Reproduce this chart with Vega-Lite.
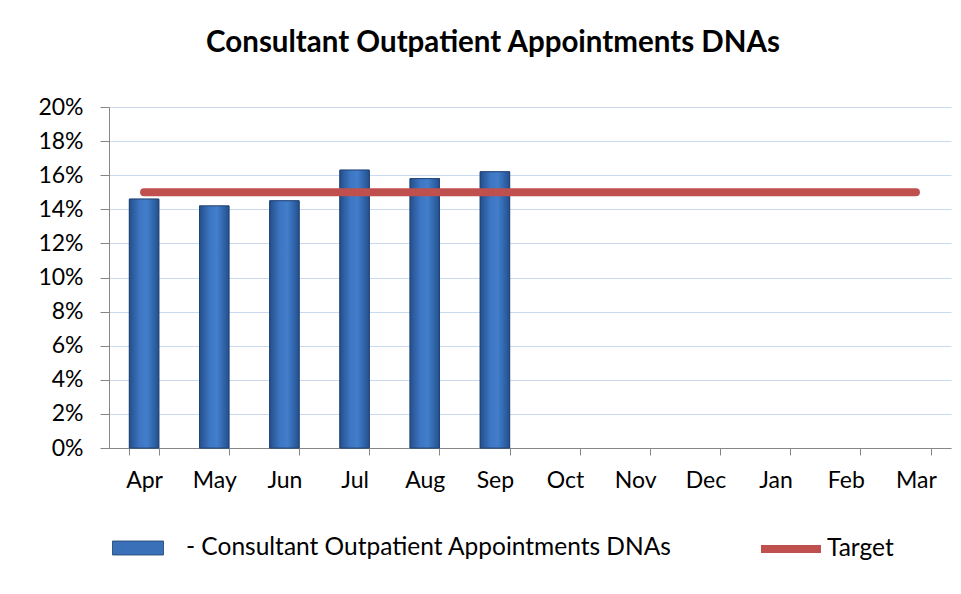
{
  "$schema": "https://vega.github.io/schema/vega-lite/v6.json",
  "width": 842,
  "height": 341,
  "autosize": {"type": "none"},
  "padding": {"left": 109, "top": 107, "right": 10, "bottom": 146},
  "background": "white",
  "title": {
    "text": "Consultant Outpatient Appointments DNAs",
    "font": "Lato",
    "fontSize": 29.5,
    "fontWeight": "bold",
    "color": "#000000",
    "anchor": "middle",
    "dx": -37,
    "offset": 38
  },
  "config": {
    "view": {"stroke": null},
    "font": "Lato",
    "axisY": {
      "tickCount": 10,
      "labelOverlap": false,
      "grid": true,
      "labelFont": "Lato",
      "labelFontSize": 23,
      "labelColor": "#000000",
      "labelPadding": 17,
      "domainColor": "#868686",
      "tickColor": "#868686",
      "tickSize": 9,
      "gridColor": "#c9daf0",
      "gridWidth": 1.2
    }
  },
  "data": {
    "values": [
      {"month": "Apr", "dna": 0.146, "target": 0.15},
      {"month": "May", "dna": 0.142, "target": 0.15},
      {"month": "Jun", "dna": 0.145, "target": 0.15},
      {"month": "Jul", "dna": 0.163, "target": 0.15},
      {"month": "Aug", "dna": 0.158, "target": 0.15},
      {"month": "Sep", "dna": 0.162, "target": 0.15},
      {"month": "Oct", "dna": null, "target": 0.15},
      {"month": "Nov", "dna": null, "target": 0.15},
      {"month": "Dec", "dna": null, "target": 0.15},
      {"month": "Jan", "dna": null, "target": 0.15},
      {"month": "Feb", "dna": null, "target": 0.15},
      {"month": "Mar", "dna": null, "target": 0.15}
    ]
  },
  "encoding": {
    "x": {
      "field": "month",
      "type": "ordinal",
      "sort": null,
      "scale": {"paddingInner": 0.58, "paddingOuter": 0.29},
      "axis": {
        "title": null,
        "labelAngle": 0,
        "labelFont": "Lato",
        "labelFontSize": 23,
        "labelColor": "#000000",
        "labelPadding": 14,
        "domainColor": "#868686",
        "tickColor": "#868686",
        "tickBand": "extent",
        "tickSize": 7,
        "grid": false
      }
    }
  },
  "layer": [
    {
      "mark": {"type": "bar", "stroke": "#1f3f6e", "strokeWidth": 0.8},
      "encoding": {
        "y": {
          "field": "dna",
          "type": "quantitative",
          "scale": {"domain": [0, 0.2], "nice": false},
          "axis": {"title": null, "format": ".0%"}
        },
        "fill": {
          "datum": "-  Consultant Outpatient Appointments DNAs",
          "type": "nominal",
          "scale": {"range": ["#3a70b8"]},
          "legend": {
            "title": null,
            "orient": "none",
            "legendX": 3,
            "legendY": 415,
            "symbolType": "M-1,-0.275H1V0.275H-1Z",
            "symbolSize": 2601,
            "symbolStrokeColor": "#1f3f6e",
            "symbolStrokeWidth": 0.8,
            "labelFont": "Lato",
            "labelFontSize": 24.5,
            "labelColor": "#000000",
            "labelOffset": 22,
            "labelLimit": 700
          }
        }
      }
    },
    {
      "mark": {
        "type": "bar",
        "stroke": "#1f3f6e",
        "strokeWidth": 0.8,
        "fill": {"gradient": "linear", "x1": 0, "y1": 0, "x2": 1, "y2": 0,
          "stops": [
            {"offset": 0, "color": "#244f8c"},
            {"offset": 0.35, "color": "#3d76c2"},
            {"offset": 0.6, "color": "#427ecb"},
            {"offset": 1, "color": "#22508f"}
          ]}
      },
      "encoding": {
        "y": {"field": "dna", "type": "quantitative", "axis": {"title": null, "format": ".0%"}}
      }
    },
    {
      "mark": {"type": "line", "strokeWidth": 8, "strokeCap": "round"},
      "encoding": {
        "y": {"field": "target", "type": "quantitative", "axis": {"title": null, "format": ".0%"}},
        "stroke": {
          "datum": "Target",
          "type": "nominal",
          "scale": {"range": ["#c0504d"]},
          "legend": {
            "title": null,
            "orient": "none",
            "legendX": 648,
            "legendY": 408,
            "symbolType": "stroke",
            "symbolSize": 3600,
            "symbolStrokeWidth": 8,
            "labelFont": "Lato",
            "labelFontSize": 24.5,
            "labelColor": "#000000",
            "labelOffset": 2
          }
        }
      }
    }
  ],
  "resolve": {"scale": {"fill": "independent", "stroke": "independent"}}
}
